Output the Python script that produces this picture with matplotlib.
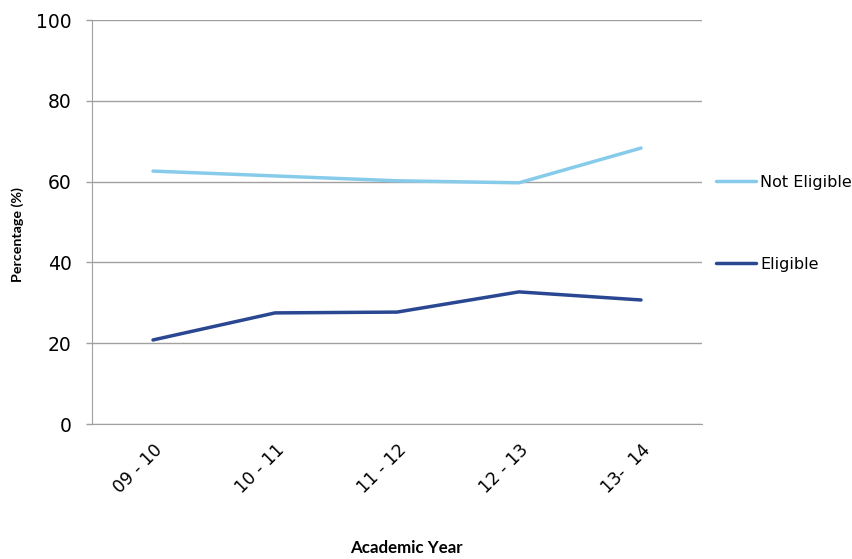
import matplotlib.pyplot as plt
import matplotlib as mpl

mpl.rcParams['font.family'] = 'DejaVu Sans'

years = ['09 - 10', '10 - 11', '11 - 12', '12 - 13', '13-  14']
not_eligible = [62.6, 61.4, 60.2, 59.7, 68.3]
eligible = [20.8, 27.5, 27.7, 32.7, 30.7]

fig = plt.figure(figsize=(8.53, 5.59), dpi=100)
ax = fig.add_axes([92 / 853, 135 / 559, 610 / 853, 404 / 559])

x = range(len(years))
ax.plot(x, not_eligible, color='#87CBEB', lw=2.5, label='Not Eligible', solid_capstyle='round', zorder=3)
ax.plot(x, eligible, color='#2A4792', lw=2.5, label='Eligible', solid_capstyle='round', zorder=3)

ax.set_xlim(-0.5, len(years) - 0.5)
ax.set_ylim(0, 100)
ax.set_yticks([0, 20, 40, 60, 80, 100])
ax.set_xticks(list(x))
ax.set_xticklabels(years, rotation=45, ha='right', rotation_mode='anchor', fontsize=12.3)
ax.tick_params(axis='y', labelsize=13.5, length=4.3, color='#A0A0A0', width=1, pad=10.5)
ax.tick_params(axis='x', length=0, pad=12)
ax.grid(axis='y', color='#A0A0A0', lw=1, zorder=0)
for s in ['top', 'right']:
    ax.spines[s].set_visible(False)
for s in ['left', 'bottom']:
    ax.spines[s].set_color('#A0A0A0')

ax.set_ylabel('Percentage (%)', fontsize=10.3, fontweight='bold', family='Lato')
ax.yaxis.set_label_coords(-0.111, 0.47)
fig.text(406 / 853, 1 - 548 / 559, 'Academic Year', ha='center', va='center',
         fontsize=12.2, fontweight='bold', family='Lato')

ax.legend(loc='upper left', bbox_to_anchor=(716 / 853, 1 - 175 / 559), bbox_transform=fig.transFigure,
          frameon=False, fontsize=11.5, handlelength=2.5, handletextpad=0.25,
          labelspacing=4.2, borderaxespad=0, borderpad=0)

plt.savefig('out.png', dpi=100)
plt.close()
